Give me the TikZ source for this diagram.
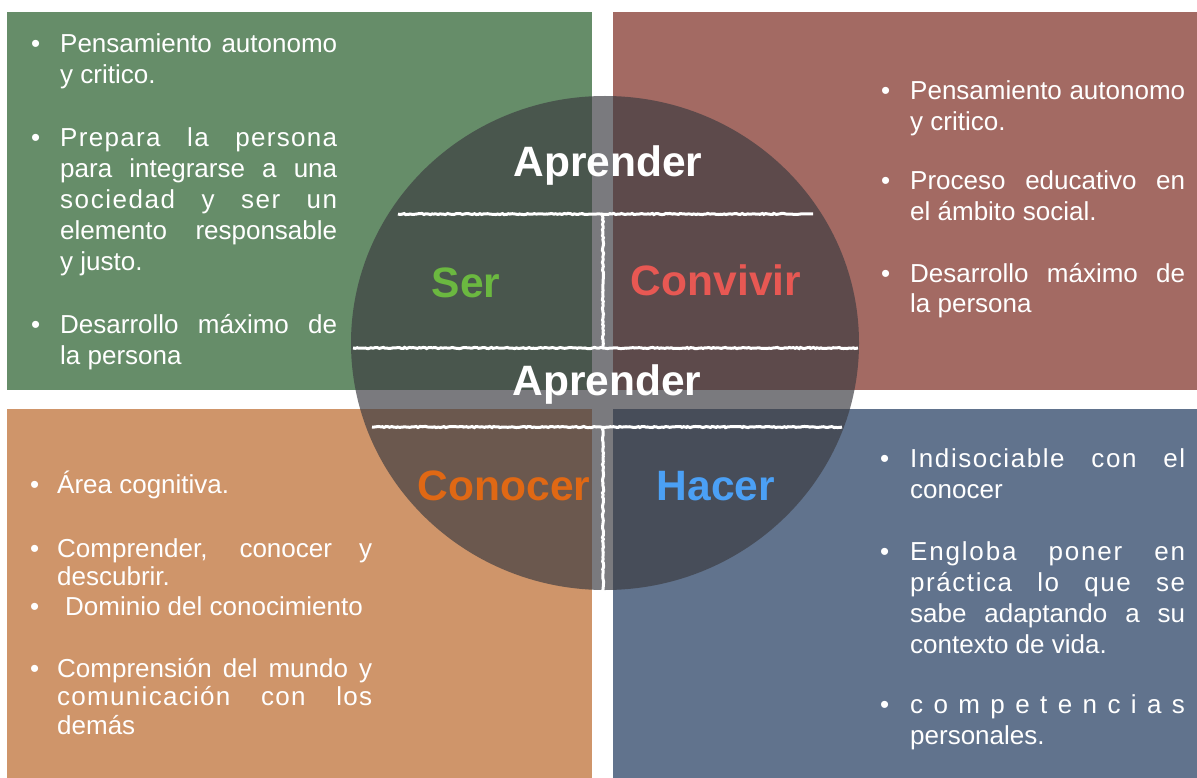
\documentclass[tikz,border=0pt]{standalone}
\usepackage{fontspec}
\setmainfont{Liberation Sans}
\usetikzlibrary{decorations.pathmorphing}

\definecolor{grn}{RGB}{102,141,105}
\definecolor{rd}{RGB}{163,106,99}
\definecolor{org}{RGB}{207,149,106}
\definecolor{blu}{RGB}{97,115,141}
\definecolor{diskc}{RGB}{60,60,65}
\definecolor{serc}{RGB}{107,184,64}
\definecolor{convc}{RGB}{231,88,83}
\definecolor{conoc}{RGB}{224,104,20}
\definecolor{hacc}{RGB}{75,160,245}

\begin{document}
\begin{tikzpicture}[x=1pt,y=-1pt,
    bul/.style={anchor=base west, inner sep=0pt, text=white, font=\fontsize{26}{31}\selectfont},
    txt/.style={anchor=base west, inner sep=0pt, text width=#1, align=justify, text=white, font=\fontsize{26}{31}\selectfont},
    tight/.style={font=\fontsize{26}{28.5}\selectfont},
    big/.style={anchor=base, inner sep=0pt, font=\fontsize{42.5}{50}\selectfont\bfseries},
    chalk/.style={draw=white, line width=3pt, decorate, decoration={random steps, segment length=2pt, amplitude=0.6pt}}
  ]
  \useasboundingbox (0,0) rectangle (1197,778);
  \fill[white] (0,0) rectangle (1197,778);
  % panels
  \fill[grn] (7,12) rectangle (592,390);
  \fill[rd] (613,12) rectangle (1197,390);
  \fill[org] (7,409) rectangle (592,778);
  \fill[blu] (613,409) rectangle (1197,778);

  % ser
  \node[bul] (g1d) at (31,53) {\textbullet};
  \node[txt=277] (g1) at (60,53) {Pensamiento autonomo\linebreak y critico.};
  \node[bul] (g2d) at (31,147) {\textbullet};
  \node[txt=277] (g2) at (60,147) {{\addfontfeatures{LetterSpace=5}Prepara la persona}\linebreak para integrarse a una\linebreak {\addfontfeatures{LetterSpace=6}sociedad y ser un}\linebreak elemento responsable\linebreak y justo.};
  \node[bul] (g3d) at (31,333) {\textbullet};
  \node[txt=277] (g3) at (60,333) {Desarrollo máximo de\linebreak la persona};

  % convivir
  \node[bul] (r1d) at (881,100) {\textbullet};
  \node[txt=275] (r1) at (910,100) {Pensamiento autonomo\linebreak y critico.};
  \node[bul] (r2d) at (881,190) {\textbullet};
  \node[txt=275] (r2) at (910,190) {Proceso educativo en\linebreak el ámbito social.};
  \node[bul] (r3d) at (881,282) {\textbullet};
  \node[txt=275] (r3) at (910,282) {Desarrollo máximo de\linebreak la persona};

  % conocer
  \node[bul] (o1d) at (30,493) {\textbullet};
  \node[txt=315] (o1) at (57,493) {Área cognitiva.};
  \node[bul, tight] (o2d) at (30,557) {\textbullet};
  \node[txt=315, tight] (o2) at (57,557) {Comprender, conocer y\linebreak descubrir.};
  \node[bul] (o3d) at (30,615) {\textbullet};
  \node[txt=307] (o3) at (65,615) {Dominio del conocimiento};
  \node[bul] (o4d) at (30,677) {\textbullet};
  \node[txt=315, tight] (o4) at (57,677) {Comprensión del mundo y\linebreak {\addfontfeatures{LetterSpace=5}comunicación con los}\linebreak demás};

  % hacer
  \node[bul] (b1d) at (880,467) {\textbullet};
  \node[txt=275] (b1) at (910,467) {{\addfontfeatures{LetterSpace=6}Indisociable con el}\linebreak conocer};
  \node[bul] (b2d) at (880,560) {\textbullet};
  \node[txt=275] (b2) at (910,560) {{\addfontfeatures{LetterSpace=7}Engloba poner en}\linebreak {\addfontfeatures{LetterSpace=6}práctica lo que se}\linebreak sabe adaptando a su\linebreak contexto de vida.};
  \node[bul] (b3d) at (880,713) {\textbullet};
  \node[txt=275] (b3) at (910,713) {{\addfontfeatures{LetterSpace=40}competencias}\linebreak personales.};

  % circulo
  \fill[diskc, fill opacity=0.68] (605,343) ellipse [x radius=254pt, y radius=247pt];

  \coordinate (l1w) at (398,214);
  \coordinate (l1e) at (813,214);
  \coordinate (l2w) at (353,348);
  \coordinate (l2e) at (858,348);
  \coordinate (l3w) at (372,427);
  \coordinate (l3e) at (842,427);
  \coordinate (v1t) at (603,214);
  \coordinate (v1b) at (603,348);
  \coordinate (v2t) at (603,427);
  \coordinate (v2b) at (603,592);
  \draw[chalk] (l1w) -- (l1e);
  \draw[chalk] (l2w) -- (l2e);
  \draw[chalk] (l3w) -- (l3e);
  \draw[chalk] (v1t) -- (v1b);
  \draw[chalk] (v2t) -- (v2b);

  \node[big, text=white] (apr1) at (608,177) {Aprender};
  \node[big, text=serc] (ser) at (466,298) {Ser};
  \node[big, text=convc] (conv) at (716,295) {Convivir};
  \node[big, text=white] (apr2) at (607,395) {Aprender};
  \node[big, text=conoc] (cono) at (504,500) {Conocer};
  \node[big, text=hacc] (hac) at (716,500) {Hacer};
\end{tikzpicture}
\end{document}
